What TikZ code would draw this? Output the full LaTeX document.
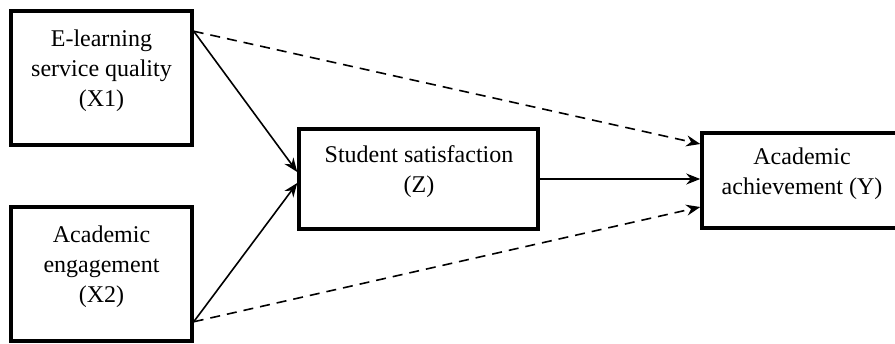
\documentclass[tikz,border=0pt]{standalone}
\usepackage{fontspec}
\setmainfont{Liberation Serif}
\usetikzlibrary{arrows.meta}
\begin{document}
\begin{tikzpicture}[x=1pt,y=-1pt,
  box/.style={draw=black,line width=3.5pt,minimum width=#1,inner sep=0pt},
  lbl/.style={align=center,inner sep=0pt,font=\fontsize{24}{30}\selectfont},
  conn/.style={line width=1.6pt,-{Stealth[length=14pt,width=11pt]}},
  dconn/.style={conn,dash pattern=on 10pt off 7pt}]
\useasboundingbox (0,0) rectangle (895,343);
\begin{scope}
\clip (0,0) rectangle (895,343);
\node[box=181pt,minimum height=134pt] (X1) at (101.5,78) {};
\node[box=181pt,minimum height=134pt] (X2) at (101.5,274) {};
\node[box=239pt,minimum height=100pt] (Z) at (418.5,179) {};
\node[box=202pt,minimum height=95pt] (Y) at (803,180.5) {};
\end{scope}
\node[lbl] (X1t) at (101.5,71) {E-learning\\service quality\\(X1)};
\node[lbl] (X2t) at (101.5,267) {Academic\\engagement\\(X2)};
\node[lbl] (Zt) at (419,172) {Student satisfaction\\(Z)};
\node[lbl] (Yt) at (802,174) {Academic\\achievement (Y)};
\draw[conn] ([yshift=-22pt]X1.north east) -- ([yshift=7pt]Z.west);
\draw[conn] ([yshift=21pt]X2.south east) -- ([yshift=-4pt]Z.west);
\draw[conn] (Z.east) -- (Z.east -| Y.west);
\draw[dconn] ([yshift=-22pt]X1.north east) -- ([yshift=36.5pt]Y.west);
\draw[dconn] ([yshift=21pt]X2.south east) -- ([yshift=-26.5pt]Y.west);
\end{tikzpicture}
\end{document}
